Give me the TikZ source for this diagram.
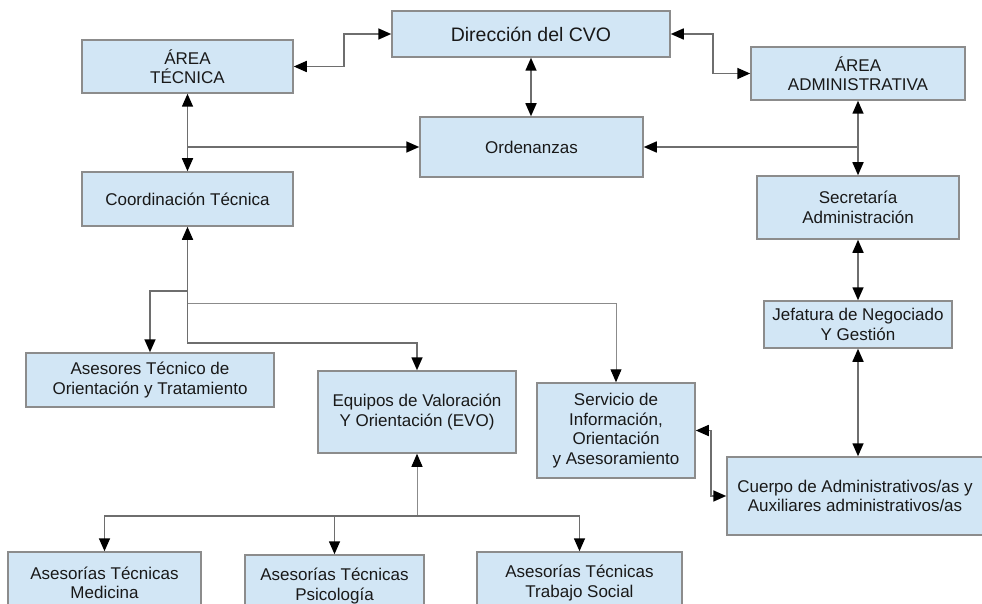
\documentclass[tikz,border=0pt]{standalone}
\usepackage{fontspec}
\setmainfont{Liberation Sans}
\usetikzlibrary{arrows.meta}
\definecolor{boxfill}{HTML}{D2E6F5}
\definecolor{boxline}{HTML}{8C8C8C}
\definecolor{linkgray}{HTML}{6E6E6E}

\begin{document}
\begin{tikzpicture}[x=1pt, y=-1pt, >={Triangle[length=13pt,width=11pt,color=black]},
  unit/.style={shape=rectangle, draw=boxline, line width=1.5pt, fill=boxfill, align=center,
    inner sep=0pt, font=\fontsize{17}{19.5}\selectfont, text=black!90},
  link/.style={draw=linkgray, line width=1.6pt},
  thinlink/.style={draw=linkgray!80, line width=1pt}]
\useasboundingbox (0,0) rectangle (982,604);

\node [unit, minimum width=278pt, minimum height=46pt, font=\fontsize{19.5}{22}\selectfont] (Dir) at (531,34) {Dirección del CVO};
\node [unit, minimum width=211pt, minimum height=53pt] (AT) at (187.5,66.5) {ÁREA\\TÉCNICA};
\node [unit, minimum width=214pt, minimum height=53pt] (AA) at (858,73.5) {ÁREA\\ADMINISTRATIVA};
\node [unit, minimum width=223pt, minimum height=60pt] (Ord) at (531.5,147) {Ordenanzas};
\node [unit, minimum width=211pt, minimum height=54pt] (Coord) at (187.5,199) {Coordinación Técnica};
\node [unit, minimum width=202pt, minimum height=63pt] (Sec) at (858,207.5) {Secretaría\\Administración};
\node [unit, minimum width=188pt, minimum height=47pt] (Jef) at (858,324.5) {Jefatura de Negociado\\Y Gestión};
\node [unit, minimum width=248pt, minimum height=54pt] (Ases) at (150,380) {Asesores Técnico de\\Orientación y Tratamiento};
\node [unit, minimum width=198pt, minimum height=82pt] (EVO) at (417,412) {Equipos de Valoración\\Y Orientación (EVO)};
\node [unit, minimum width=158pt, minimum height=95pt] (Serv) at (616,430.5) {Servicio de\\Información,\\Orientación\\y Asesoramiento};
\node [unit, minimum width=256pt, minimum height=78pt] (Cuerpo) at (855,496) {Cuerpo de Administrativos/as y\\Auxiliares administrativos/as};
\node [unit, minimum width=193pt, minimum height=62pt] (Med) at (104.5,583) {Asesorías Técnicas\\Medicina};
\node [unit, minimum width=179pt, minimum height=62pt] (Psi) at (334.5,586) {Asesorías Técnicas\\Psicología};
\node [unit, minimum width=205pt, minimum height=62pt] (TS) at (579.5,583) {Asesorías Técnicas\\Trabajo Social};

% top level
\draw [link, <->] (AT.east) -- ++(50,0) |- (Dir.west);
\draw [link, <->] (Dir.east) -- ++(42,0) |- (AA.west);
\draw [link, <->] (Dir.south) -- (Dir.south |- Ord.north);
\draw [link, <->] (AT) -- (Coord);
\draw [link, <->] (AA) -- (Sec);
\coordinate (OrdL) at (AT.south |- Ord.west);
\coordinate (OrdR) at (AA.south |- Ord.east);
\draw [link, ->] (OrdL) -- (Ord.west);
\draw [link, ->] (OrdR) -- (Ord.east);

% administrative column
\draw [link, <->] (Sec) -- (Jef);
\draw [link, <->] (Jef.south) -- (Jef.south |- Cuerpo.north);
\draw [link, <->] (Serv.east) -- ++(15,0) |- (Cuerpo.west);

% technical tree
\draw [link, <->] (Coord.south) -- ++(0,116) -| (EVO.north);
\draw [link, ->] (Coord.south) ++(0,64) -| (Ases.north);
\draw [thinlink, ->] (Coord.south) ++(0,77) -| (Serv.north);
\draw [thinlink, <-] (EVO.south) -- ++(0,62) coordinate (EVOb);
\draw [link, ->] (EVOb) -| (Med.north);
\draw [link, ->] (EVOb) -| (Psi.north);
\draw [link, ->] (EVOb) -| (TS.north);
\end{tikzpicture}
\end{document}
